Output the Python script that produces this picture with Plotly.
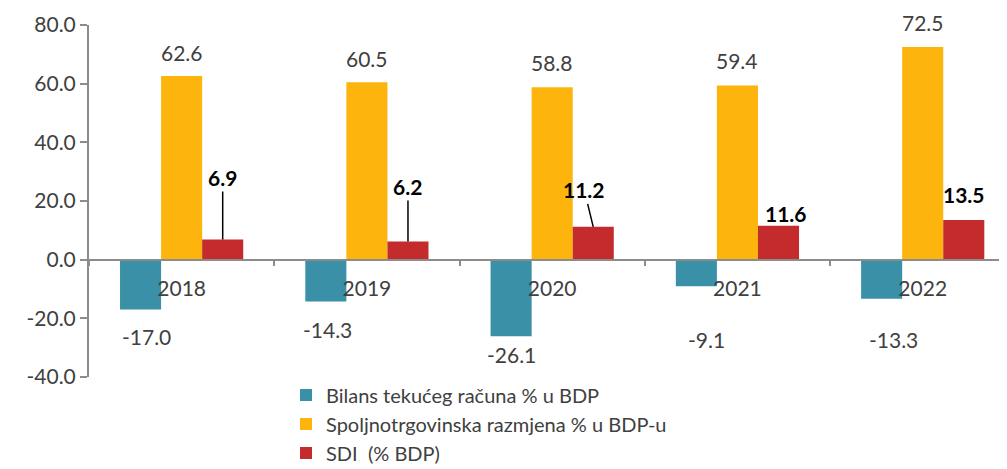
import plotly.graph_objects as go

years = ["2018", "2019", "2020", "2021", "2022"]
bilans = [-17.0, -14.3, -26.1, -9.1, -13.3]
razmjena = [62.6, 60.5, 58.8, 59.4, 72.5]
sdi = [6.9, 6.2, 11.2, 11.6, 13.5]
names = ["Bilans tekućeg računa % u BDP", "Spoljnotrgovinska razmjena % u BDP-u", "SDI  (% BDP)"]
ytick_vals = [-40, -20, 0, 20, 40, 60, 80]

colors = ["#3A90A6", "#FDB40C", "#C42B2C"]
FONT = "Lato"
TXT = "#404040"
bargap = 0.335
bw = (1 - bargap) / 3

fig = go.Figure()
for vals, nm, c in zip([bilans, razmjena, sdi], names, colors):
    fig.add_trace(go.Bar(x=years, y=vals, name=nm, marker=dict(color=c, line=dict(width=0))))

ann = []
# teal labels below bars
teal_dy = [-27, -28, -18, -53, -41]
teal_dx = [6, 2, 0, 10, 12]
for i, v in enumerate(bilans):
    ann.append(dict(x=i - bw, y=v, text=f"{v:.1f}", showarrow=False,
                    yshift=teal_dy[i], xshift=teal_dx[i],
                    font=dict(size=21, color=TXT, family=FONT)))
# orange labels above
or_shift = [24, 24, 25, 25, 25]
for i, v in enumerate(razmjena):
    ann.append(dict(x=i, y=v, text=f"{v:.1f}", showarrow=False, yshift=or_shift[i],
                    font=dict(size=21, color=TXT, family=FONT)))
# red labels bold with leader lines
red_ax = [0, 0, -9, None, None]
red_ay = [-62, -55, -37, None, None]
red_dy = [0, 0, 0, 12, 26]
red_dx = [0, 0, 0, 7, 0]
for i, v in enumerate(sdi):
    if red_ay[i] is not None:
        ann.append(dict(x=i + bw, y=v, text=f"<b>{v:.1f}</b>", showarrow=True, arrowhead=0,
                        arrowwidth=1.5, arrowcolor="#000000", ax=red_ax[i], ay=red_ay[i],
                        standoff=0, font=dict(size=21, color="#000000", family=FONT)))
    else:
        ann.append(dict(x=i + bw, y=v, text=f"<b>{v:.1f}</b>", showarrow=False,
                        yshift=red_dy[i], xshift=red_dx[i],
                        font=dict(size=21, color="#000000", family=FONT)))

fig.update_layout(
    width=999, height=461,
    margin=dict(l=81, r=0, t=17, b=92, autoexpand=False),
    paper_bgcolor="white", plot_bgcolor="white",
    barmode="group", bargap=bargap, bargroupgap=0,
    font=dict(family=FONT, color=TXT),
    annotations=ann,
    legend=dict(x=0.2146, y=0.004, xanchor="left", yanchor="top", orientation="v",
                font=dict(size=20, color=TXT, family=FONT), tracegroupgap=0,
                itemwidth=30, bgcolor="rgba(0,0,0,0)"),
    xaxis=dict(type="category", range=[-0.5, 4.455], anchor="free", position=40 / 120,
               showline=True, linecolor="#8c8c8c", linewidth=2, ticks="outside",
               tickson="boundaries", ticklen=5, tickcolor="#8c8c8c", tickwidth=1.5,
               tickfont=dict(size=21, color=TXT, family=FONT), ticklabelstandoff=10,
               showgrid=False, zeroline=False),
    yaxis=dict(range=[-40, 80], tickvals=ytick_vals, ticktext=[f"{v:.1f}" for v in ytick_vals],
               showline=True, linecolor="#8c8c8c", linewidth=2, ticks="outside", ticklen=7,
               tickcolor="#8c8c8c", tickwidth=1.5, showgrid=False, zeroline=False,
               tickfont=dict(size=21, color=TXT, family=FONT)),
)
fig.write_html("out.html")
